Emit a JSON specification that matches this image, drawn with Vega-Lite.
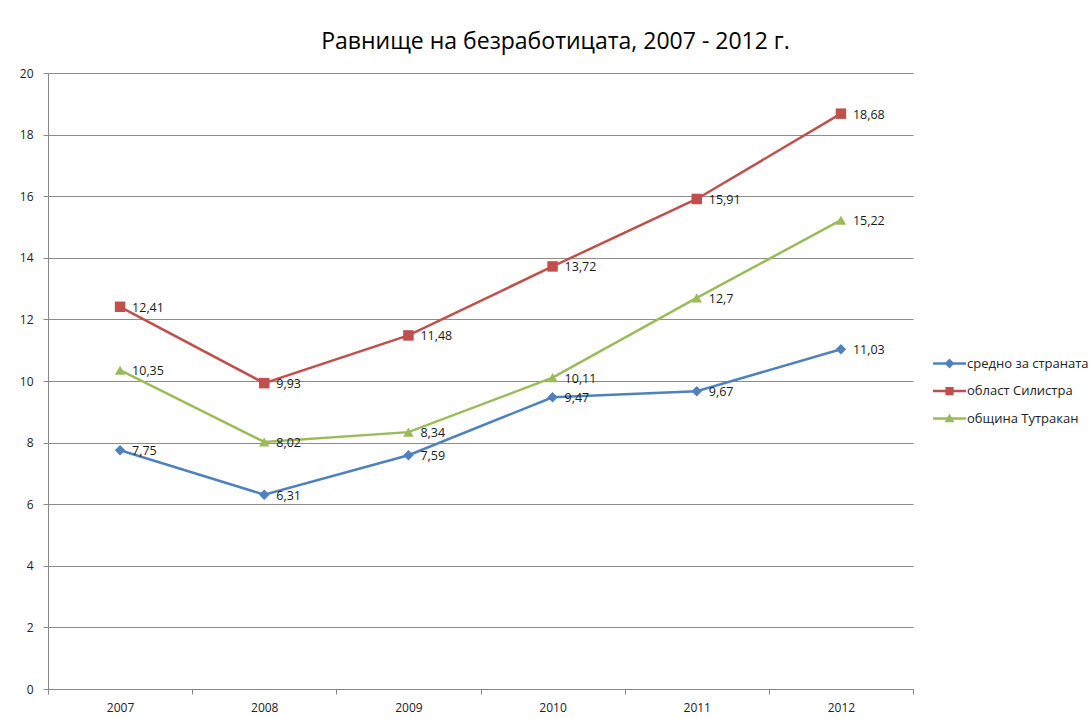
{
  "$schema": "https://vega.github.io/schema/vega-lite/v6.json",
  "width": 865,
  "height": 616,
  "autosize": "none",
  "padding": {"left": 48, "top": 73, "right": 176, "bottom": 30},
  "background": "white",
  "config": {
    "locale": {"number": {"decimal": ",", "thousands": " ", "grouping": [3], "currency": ["", ""]}},
    "font": "Open Sans",
    "view": {"stroke": null}
  },
  "title": {
    "text": "Равнище на безработицата, 2007 - 2012 г.",
    "font": "Open Sans",
    "fontSize": 23,
    "fontWeight": "normal",
    "color": "#000000",
    "anchor": "middle",
    "dx": 75,
    "baseline": "bottom",
    "offset": -10
  },
  "data": {
    "values": [
      {"year": "2007", "series": "средно за страната", "value": 7.75},
      {"year": "2008", "series": "средно за страната", "value": 6.31},
      {"year": "2009", "series": "средно за страната", "value": 7.59},
      {"year": "2010", "series": "средно за страната", "value": 9.47},
      {"year": "2011", "series": "средно за страната", "value": 9.67},
      {"year": "2012", "series": "средно за страната", "value": 11.03},
      {"year": "2007", "series": "област Силистра", "value": 12.41},
      {"year": "2008", "series": "област Силистра", "value": 9.93},
      {"year": "2009", "series": "област Силистра", "value": 11.48},
      {"year": "2010", "series": "област Силистра", "value": 13.72},
      {"year": "2011", "series": "област Силистра", "value": 15.91},
      {"year": "2012", "series": "област Силистра", "value": 18.68},
      {"year": "2007", "series": "община Тутракан", "value": 10.35},
      {"year": "2008", "series": "община Тутракан", "value": 8.02},
      {"year": "2009", "series": "община Тутракан", "value": 8.34},
      {"year": "2010", "series": "община Тутракан", "value": 10.11},
      {"year": "2011", "series": "община Тутракан", "value": 12.7},
      {"year": "2012", "series": "община Тутракан", "value": 15.22}
    ]
  },
  "encoding": {
    "x": {
      "field": "year",
      "type": "ordinal",
      "bandPosition": 0.5,
      "scale": {"type": "band", "paddingInner": 0, "paddingOuter": 0},
      "axis": {
        "title": null,
        "labelAngle": 0,
        "tickBand": "extent",
        "grid": false,
        "domainColor": "#868686",
        "tickColor": "#868686",
        "tickSize": 5,
        "labelFontSize": 12,
        "labelColor": "#222222",
        "labelPadding": 8
      }
    },
    "y": {
      "field": "value",
      "type": "quantitative",
      "scale": {"domain": [0, 20], "nice": false},
      "axis": {
        "title": null,
        "values": [0, 2, 4, 6, 8, 10, 12, 14, 16, 18, 20],
        "grid": true,
        "gridColor": "#8c8c8c",
        "domainColor": "#868686",
        "tickColor": "#868686",
        "tickSize": 5,
        "labelFontSize": 12,
        "labelColor": "#222222",
        "labelPadding": 10
      }
    }
  },
  "layer": [
    {
      "mark": {"type": "line", "strokeWidth": 2.5},
      "encoding": {
        "color": {
          "field": "series",
          "type": "nominal",
          "sort": null,
          "scale": {"domain": ["средно за страната", "област Силистра", "община Тутракан"], "range": ["#4F81BD", "#C0504D", "#9BBB59"]},
          "legend": {
            "title": null,
            "orient": "none",
            "legendX": 885,
            "legendY": 274,
            "symbolSize": 1089,
            "rowPadding": 3.5,
            "labelFontSize": 13,
            "labelFont": "Open Sans",
            "labelColor": "#222222",
            "labelOffset": 1,
            "encode": {
              "symbols": {
                "update": {
                  "shape": {"signal": "datum.index === 0 ? 'M-1,-0.075H1V0.075H-1Z M0,-0.3L0.3,0L0,0.3L-0.3,0Z' : (datum.index === 1 ? 'M-1,-0.075H1V0.075H-1Z M-0.25,-0.25H0.25V0.25H-0.25Z' : 'M-1,-0.075H1V0.075H-1Z M0,-0.3L0.3,0.22L-0.3,0.22Z')"},
                  "fill": {"scale": "color", "field": "value"},
                  "strokeWidth": {"value": 0}
                }
              }
            }
          }
        }
      }
    },
    {
      "transform": [{"filter": "datum.series === 'средно за страната'"}],
      "mark": {"type": "point", "filled": true, "opacity": 1, "size": 110, "shape": "diamond", "color": "#4F81BD"}
    },
    {
      "transform": [{"filter": "datum.series === 'област Силистра'"}],
      "mark": {"type": "point", "filled": true, "opacity": 1, "size": 110, "shape": "square", "color": "#C0504D"}
    },
    {
      "transform": [{"filter": "datum.series === 'община Тутракан'"}],
      "mark": {"type": "point", "filled": true, "opacity": 1, "size": 110, "shape": "triangle-up", "color": "#9BBB59"}
    },
    {
      "mark": {"type": "text", "align": "left", "baseline": "middle", "dx": 12, "dy": 1, "fontSize": 12.5, "color": "#1a1a1a"},
      "encoding": {
        "text": {"field": "value", "type": "quantitative", "format": ".4~g"}
      }
    }
  ]
}
